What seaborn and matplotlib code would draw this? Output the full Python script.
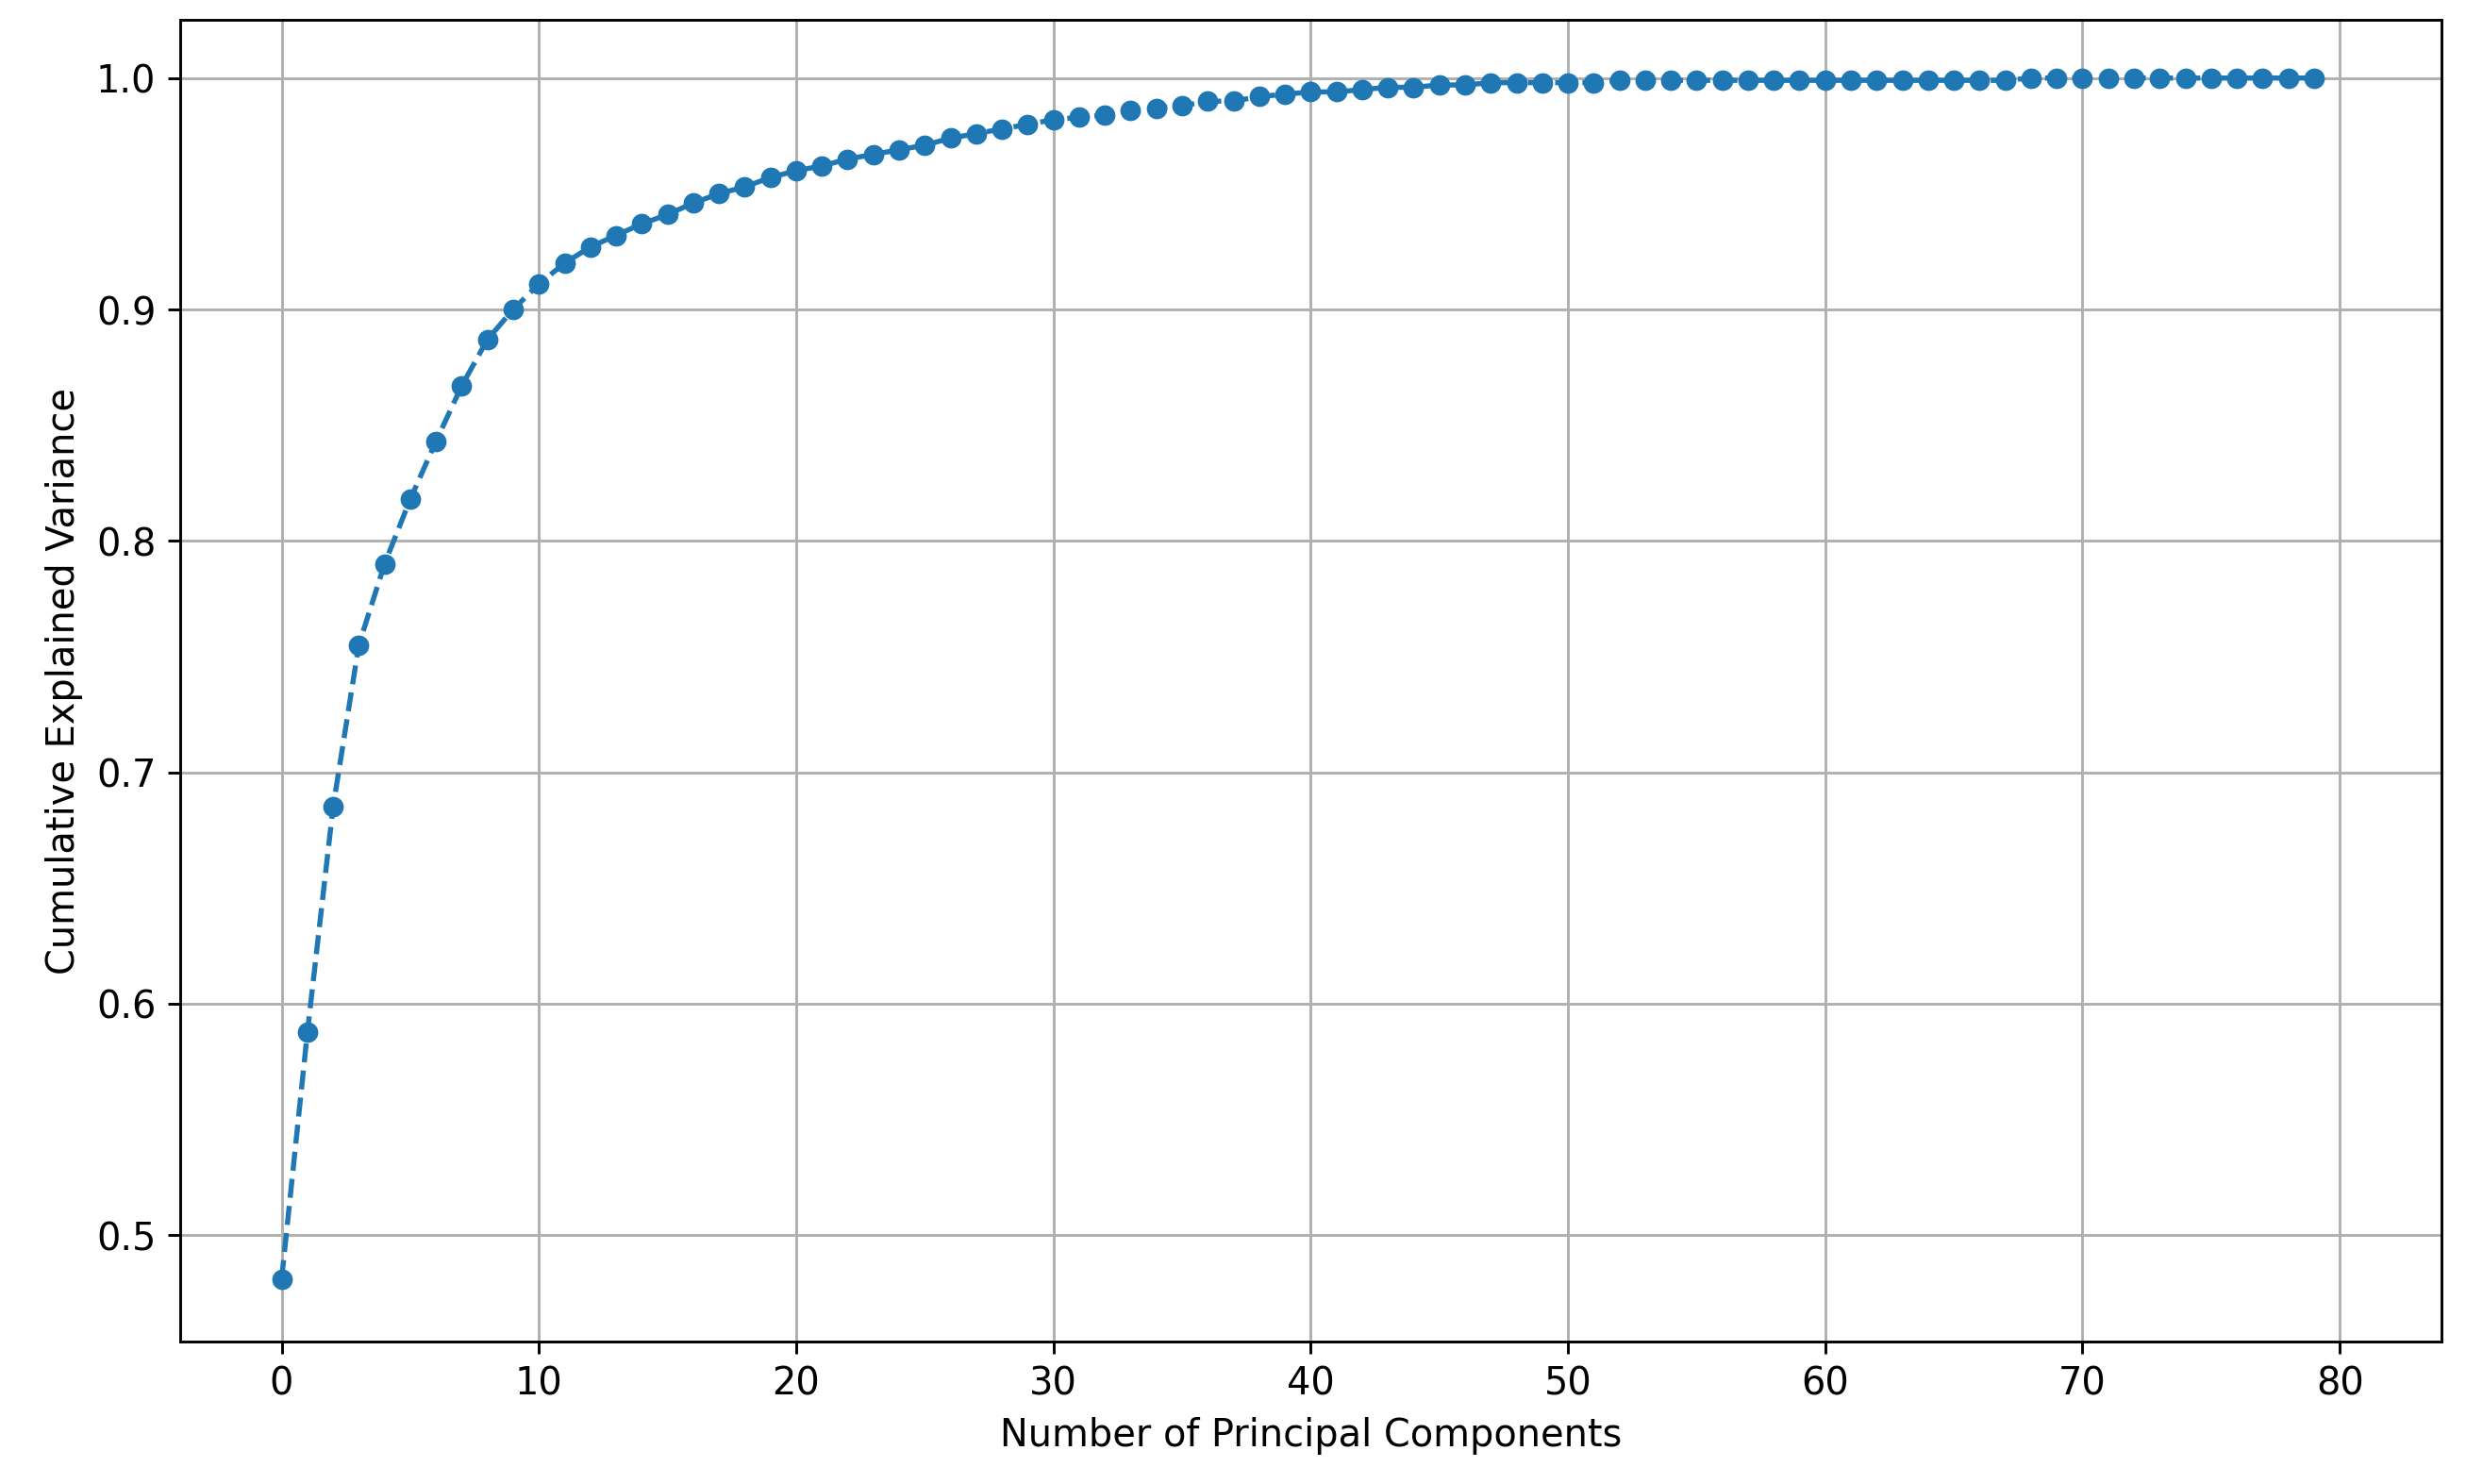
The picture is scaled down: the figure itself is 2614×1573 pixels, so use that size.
import matplotlib
matplotlib.use("Agg")
import matplotlib.pyplot as plt
import seaborn as sns
import pandas as pd

components = list(range(80))
cum_var = [0.481, 0.5875, 0.685, 0.755, 0.790, 0.818, 0.843, 0.867, 0.887, 0.900,
           0.911, 0.920, 0.927, 0.932, 0.937, 0.941, 0.946, 0.950, 0.953, 0.957,
           0.960, 0.962, 0.965, 0.967, 0.969, 0.971, 0.974, 0.976, 0.978, 0.980,
           0.982, 0.983, 0.984, 0.986, 0.987, 0.988, 0.990, 0.990, 0.992, 0.993,
           0.994, 0.994, 0.995, 0.996, 0.996, 0.997, 0.997, 0.998, 0.998, 0.998,
           0.998, 0.998, 0.999, 0.999, 0.999, 0.999, 0.999, 0.999, 0.999, 0.999,
           0.999, 0.999, 0.999, 0.999, 0.999, 0.999, 0.999, 0.999, 1.0, 1.0,
           1.0, 1.0, 1.0, 1.0, 1.0, 1.0, 1.0, 1.0, 1.0, 1.0]

df = pd.DataFrame({"n": components, "v": cum_var})

fig = plt.figure(figsize=(10, 6.02), dpi=261.4)
ax = fig.add_axes([0.073, 0.096, 0.917, 0.89])
sns.lineplot(data=df, x="n", y="v", ax=ax, marker="o", linestyle="--",
             color="#1f77b4", markersize=6, markeredgewidth=0, linewidth=1.5)
ax.set_xlabel("Number of Principal Components", fontsize=11)
ax.set_ylabel("Cumulative Explained Variance", fontsize=11)
ax.set_xticks(range(0, 81, 10))
ax.set_yticks([0.5, 0.6, 0.7, 0.8, 0.9, 1.0])
ax.set_xlim(-3.95, 83.95)
ax.set_ylim(0.454, 1.025)
ax.tick_params(labelsize=11)
ax.grid(True, color="#b0b0b0", linewidth=0.8)
fig.savefig("out.png", dpi=261.4)
